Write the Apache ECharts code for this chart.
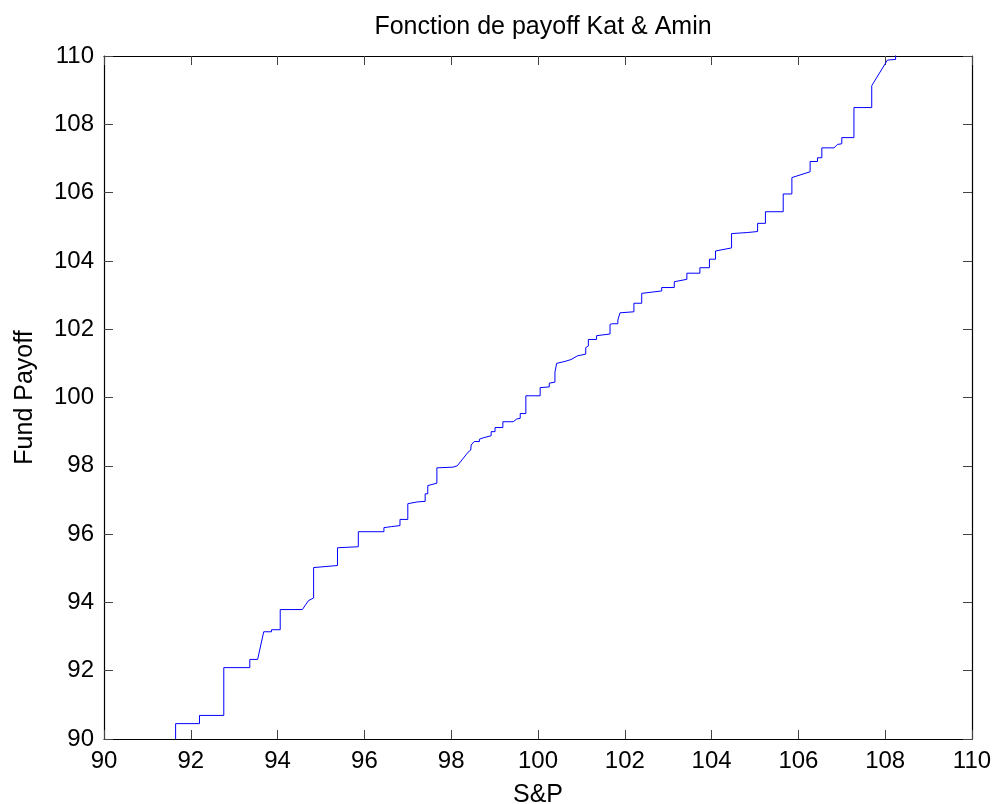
<!DOCTYPE html>
<html>
<head>
<meta charset="utf-8">
<title>Fonction de payoff Kat & Amin</title>
<script src="https://cdn.jsdelivr.net/npm/echarts@6/dist/echarts.min.js"></script>
<style>
  html, body { margin: 0; padding: 0; background: #fff; }
  #chart { width: 997px; height: 804px; }
</style>
</head>
<body>
<div id="chart"></div>
<script>
// Payoff curve vertices: S&P level (x) against fund payoff (y)
const spLevel = [
  91.65, 91.65, 92.20, 92.20, 92.76, 92.76, 93.36, 93.36, 93.54, 93.68,
  93.86, 93.86, 94.06, 94.06, 94.57, 94.71, 94.83, 94.83, 95.38, 95.38,
  95.86, 95.86, 96.45, 96.45, 96.63, 96.63, 96.82, 96.82, 97.00, 97.00,
  97.21, 97.40, 97.40, 97.46, 97.46, 97.67, 97.67, 98.04, 98.14, 98.39,
  98.45, 98.46, 98.49, 98.53, 98.65, 98.65, 98.74, 98.92, 98.92, 99.01,
  99.01, 99.19, 99.19, 99.43, 99.51, 99.59, 99.59, 99.72, 99.72, 100.05,
  100.05, 100.26, 100.26, 100.39, 100.39, 100.43, 100.60, 100.76, 100.91, 101.10,
  101.10, 101.16, 101.16, 101.35, 101.35, 101.66, 101.66, 101.71, 101.84, 101.84,
  101.89, 102.21, 102.21, 102.39, 102.39, 102.85, 102.85, 103.14, 103.14, 103.43,
  103.43, 103.73, 103.73, 103.95, 103.95, 104.09, 104.09, 104.46, 104.46, 104.82,
  104.82, 105.06, 105.06, 105.24, 105.24, 105.65, 105.65, 105.85, 105.85, 106.27,
  106.27, 106.44, 106.44, 106.54, 106.54, 106.82, 106.90, 107.00, 107.00, 107.28,
  107.28, 107.69, 107.69, 108.05, 108.24, 108.24
];
const fundPayoff = [
  90.00, 90.45, 90.45, 90.69, 90.69, 92.09, 92.09, 92.33, 92.33, 93.14,
  93.14, 93.20, 93.20, 93.79, 93.79, 94.05, 94.13, 95.02, 95.08, 95.60,
  95.63, 96.07, 96.07, 96.19, 96.22, 96.25, 96.25, 96.43, 96.43, 96.89,
  96.94, 96.96, 97.18, 97.18, 97.42, 97.49, 97.94, 97.96, 98.00, 98.40,
  98.46, 98.61, 98.66, 98.71, 98.71, 98.78, 98.82, 98.88, 99.00, 99.00,
  99.12, 99.12, 99.29, 99.29, 99.37, 99.39, 99.53, 99.53, 100.05, 100.05,
  100.29, 100.31, 100.42, 100.45, 100.74, 101.00, 101.05, 101.11, 101.22, 101.27,
  101.46, 101.51, 101.70, 101.70, 101.81, 101.86, 102.14, 102.16, 102.16, 102.27,
  102.48, 102.51, 102.76, 102.76, 103.05, 103.12, 103.22, 103.22, 103.39, 103.46,
  103.64, 103.64, 103.80, 103.80, 104.05, 104.05, 104.29, 104.38, 104.80, 104.83,
  104.86, 104.86, 105.10, 105.10, 105.44, 105.44, 105.96, 105.96, 106.44, 106.61,
  106.91, 106.91, 107.02, 107.02, 107.31, 107.31, 107.41, 107.43, 107.61, 107.61,
  108.49, 108.49, 109.13, 109.88, 109.90, 110.05
];

const titleText = 'Fonction de payoff Kat & Amin';
const xName = 'S&P';
const yName = 'Fund Payoff';
const axisMin = 90, axisMax = 110, axisStep = 2;

const FONT = '"Liberation Sans", Arial, Helvetica, sans-serif';

// plot box in pixels
const GRID = { left: 104, right: 25, top: 56, bottom: 65 };
const plotCenterX = GRID.left + (997 - GRID.left - GRID.right) / 2;

const points = spLevel.map((x, i) => [x, fundPayoff[i]]);

function boxAxis(position, withLabels, name, nameGap, rotate) {
  return {
    type: 'value',
    position: position,
    min: axisMin,
    max: axisMax,
    interval: axisStep,
    name: name || '',
    nameLocation: 'middle',
    nameGap: nameGap || 0,
    nameRotate: rotate,
    nameTextStyle: { fontFamily: FONT, fontSize: 25, color: '#000' },
    axisLine: { show: true, onZero: false, lineStyle: { color: '#000', width: 1.2 } },
    axisTick: { show: true, inside: true, length: 9, lineStyle: { color: '#444', width: 1 } },
    axisLabel: {
      show: withLabels,
      margin: 10,
      fontFamily: FONT,
      fontSize: 24,
      color: '#000',
      showMinLabel: true,
      showMaxLabel: true
    },
    splitLine: { show: false }
  };
}

const chart = echarts.init(document.getElementById('chart'), null, { renderer: 'canvas' });
chart.setOption({
  animation: false,
  backgroundColor: '#fff',
  title: {
    text: titleText,
    left: plotCenterX,
    textAlign: 'center',
    top: 10,
    textStyle: { fontFamily: FONT, fontSize: 25, fontWeight: 'normal', color: '#000' }
  },
  grid: {
    left: GRID.left,
    right: GRID.right,
    top: GRID.top,
    bottom: GRID.bottom,
    containLabel: false,
    outerBoundsMode: 'none'
  },
  xAxis: [
    boxAxis('bottom', true, xName, 44),
    boxAxis('top', false)
  ],
  yAxis: [
    boxAxis('left', true, yName, 66, 90),
    boxAxis('right', false)
  ],
  series: [{
    type: 'line',
    xAxisIndex: 0,
    yAxisIndex: 0,
    data: points,
    showSymbol: false,
    symbol: 'none',
    clip: true,
    lineStyle: { color: '#0000ff', width: 1 }
  }]
});
</script>
</body>
</html>
